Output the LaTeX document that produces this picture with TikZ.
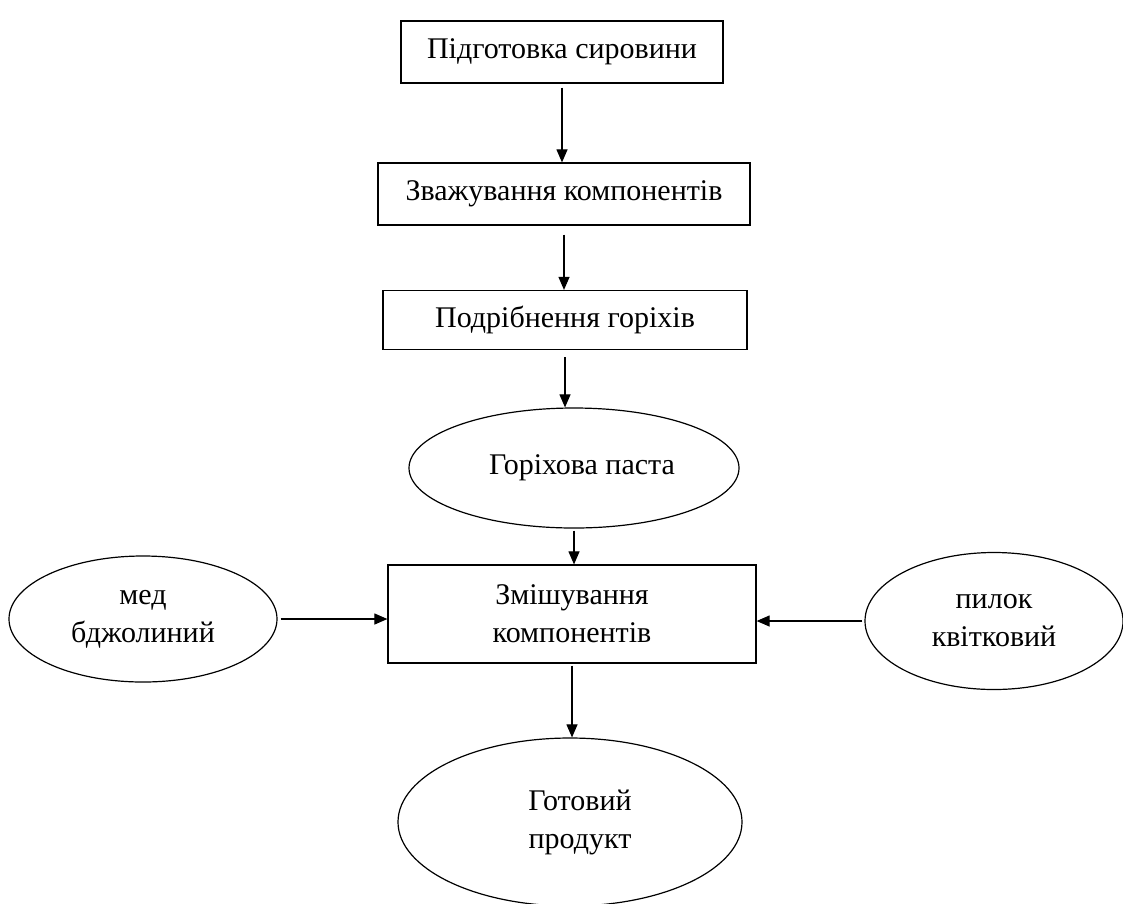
\documentclass[tikz,border=0pt]{standalone}
\usepackage{fontspec}
\setmainfont{Liberation Serif}
\usepackage{tikz}
\usetikzlibrary{shapes.geometric, arrows.meta}
\tikzstyle{arrow} = [line width=1.1pt,-{Triangle[length=13pt,width=11pt]}]

\begin{document}
\begin{tikzpicture}[x=1pt, y=-1pt,
		box/.style= {draw, line width=1.2pt, rectangle, inner sep=0pt, align=center},
		oval/.style= {draw, line width=1.2pt, ellipse, inner sep=0pt, align=center},
		every node/.style= {font = {\fontsize{30}{38}\selectfont}}
	]
	\useasboundingbox (0,0) rectangle (1123,903);
	
	\node (prep) [box, minimum width=322, minimum height=62] at (562,52) {Підготовка сировини};
	\node (weigh) [box, minimum width=372, minimum height=62] at (564,194) {Зважування компонентів};
	\node (grind) [box, minimum width=364, minimum height=59] at (565,320) {Подрібнення горіхів};
	\node (paste) [oval, minimum width=330, minimum height=120] at (574,468) {\hspace{16pt}Горіхова паста};
	\node (mix) [box, minimum width=368, minimum height=98] at (572,614) {Змішування\\компонентів};
	\node (honey) [oval, minimum width=268, minimum height=126] at (143,619) {мед\\бджолиний};
	\node (pollen) [oval, minimum width=258, minimum height=137] at (994,621) {пилок\\квітковий};
	\node (prod) [oval, minimum width=344, minimum height=168] at (570,822) {\hspace{20pt}Готовий\\\hspace{20pt}продукт};
	
	\draw [arrow, shorten <=4pt] (prep.south) -- (prep.south |- weigh.north);
	\draw [arrow, shorten <=9pt] (weigh.south) -- (weigh.south |- grind.north);
	\draw [arrow, shorten <=7pt] (grind.south) -- (grind.south |- paste.north);
	\draw [arrow, shorten <=2pt] (paste.south) -- (paste.south |- mix.north);
	\draw [arrow, shorten <=2pt] (mix.south) -- (mix.south |- prod.north);
	\draw [arrow, shorten <=3pt] (honey.east) -- (honey.east -| mix.west);
	\draw [arrow, shorten <=2pt] (pollen.west) -- (pollen.west -| mix.east);
\end{tikzpicture}
\end{document}
